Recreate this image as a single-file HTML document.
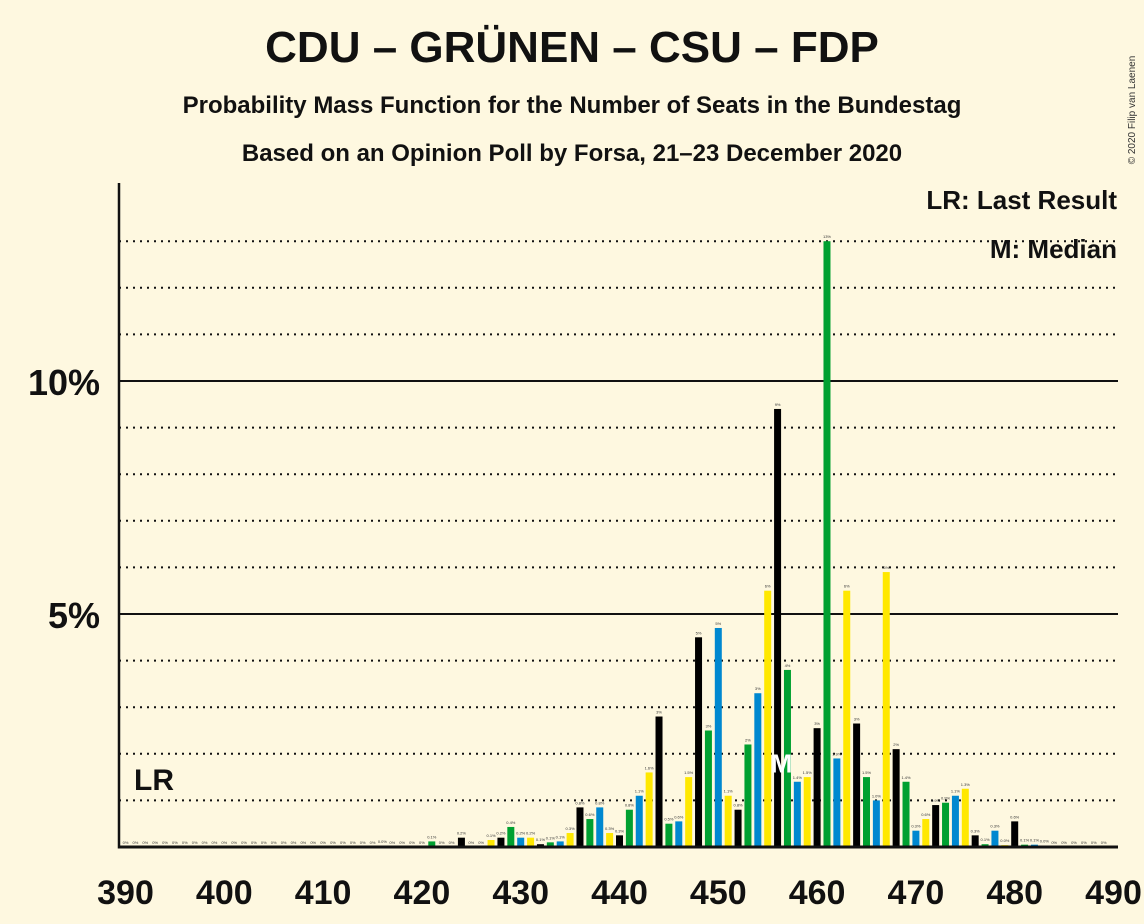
<!DOCTYPE html>
<html><head><meta charset="utf-8"><style>
html,body{margin:0;padding:0;background:#FEF8E0;}
svg{display:block;font-family:"Liberation Sans",sans-serif;}
</style></head><body>
<svg id="chart" width="1144" height="924" viewBox="0 0 1144 924">
<rect width="1144" height="924" fill="#FEF8E0"/>
<text x="572" y="62" text-anchor="middle" font-size="44" font-weight="bold" fill="#111">CDU – GRÜNEN – CSU – FDP</text>
<text x="572" y="113" text-anchor="middle" font-size="24" font-weight="bold" fill="#111">Probability Mass Function for the Number of Seats in the Bundestag</text>
<text x="572" y="161" text-anchor="middle" font-size="24" font-weight="bold" fill="#111">Based on an Opinion Poll by Forsa, 21–23 December 2020</text>
<text x="1135" y="110" font-size="10" fill="#333" transform="rotate(-90 1135 110)" text-anchor="middle">© 2020 Filip van Laenen</text>
<g id="grid"></g>
<g id="bars"></g>
<g id="axes"></g>
<text x="1117" y="209" text-anchor="end" font-size="26" font-weight="bold" fill="#111">LR: Last Result</text>
<text x="1117" y="258" text-anchor="end" font-size="26" font-weight="bold" fill="#111">M: Median</text>
<text x="134" y="790" font-size="30" font-weight="bold" fill="#111">LR</text>
</svg>
<script>
const seats = [];
for (let s = 390; s <= 489; s++) seats.push(s);
const probs = {
416:0.02,421:0.12,424:0.2,427:0.15,428:0.2,429:0.43,430:0.2,431:0.2,432:0.06,433:0.1,434:0.12,435:0.3,
436:0.85,437:0.6,438:0.85,439:0.3,440:0.25,441:0.8,442:1.1,443:1.6,444:2.8,445:0.5,446:0.55,447:1.5,
448:4.5,449:2.5,450:4.7,451:1.1,452:0.8,453:2.2,454:3.3,455:5.5,456:9.4,457:3.8,458:1.4,459:1.5,
460:2.55,461:13.0,462:1.9,463:5.5,464:2.65,465:1.5,466:1.0,467:5.9,468:2.1,469:1.4,470:0.35,471:0.6,
472:0.9,473:0.95,474:1.1,475:1.25,476:0.25,477:0.06,478:0.35,479:0.04,480:0.55,481:0.05,482:0.05,483:0.03
};
const values = seats.map(s => probs[s] || 0);
const labels = values.map(v => v === 0 ? "0%" : (v >= 1.95 ? Math.round(v) + "%" : v.toFixed(1) + "%"));
const xTicks = [390,400,410,420,430,440,450,460,470,480,490];
const yMajor = [5,10];
const yMinor = [1,2,3,4,6,7,8,9,11,12,13];
const colors = ["#000000","#00A030","#0088D0","#FFE800"];
const medianSeat = 456;

const NS = "http://www.w3.org/2000/svg";
const X0 = 119, X1 = 1118, Y0 = 847;
const xs = s => 125.5 + (s - 390) * 9.88;
const ys = p => Y0 - p * 46.6;
function mk(tag, attrs, parent){ const e = document.createElementNS(NS, tag); for (const k in attrs) e.setAttribute(k, attrs[k]); parent.appendChild(e); return e; }
const grid = document.getElementById('grid'), bars = document.getElementById('bars'), axes = document.getElementById('axes');

yMinor.forEach(p => {
  const l = mk('line', {x1:X0, x2:X1, y1:ys(p), y2:ys(p), stroke:'#111', 'stroke-width':2, 'stroke-dasharray':'2,5'}, grid);
  
  
});
yMajor.forEach(p => {
  const l = mk('line', {x1:X0, x2:X1, y1:ys(p), y2:ys(p), stroke:'#111', 'stroke-width':2}, grid);
  
  
  const t = mk('text', {x:100, y:ys(p)+14, 'text-anchor':'end', 'font-size':36, 'font-weight':'bold', fill:'#111'}, axes);
  t.textContent = p + '%';
  
  
});

seats.forEach((s, i) => {
  const v = values[i];
  const c = colors[((s % 4) + 4) % 4];
  if (v > 0) {
    const r = mk('rect', {x:xs(s)-3.5, y:ys(v), width:7, height:Y0-ys(v), fill:c}, bars);
    
    
  }
  const t = mk('text', {x:xs(s), y:ys(v)-3, 'text-anchor':'middle', 'font-size':4, fill:'#333'}, bars);
  t.textContent = labels[i];
  
  
});

const m = mk('text', {x:xs(medianSeat)+4, y:ys(1.6), 'text-anchor':'middle', 'font-size':26, 'font-weight':'bold', fill:'#fff'}, bars);
m.textContent = 'M';



const ya = mk('line', {x1:X0, x2:X0, y1:183, y2:Y0+1.5, stroke:'#111', 'stroke-width':2.5}, axes);


const xa = mk('line', {x1:X0-1, x2:X1, y1:Y0, y2:Y0, stroke:'#111', 'stroke-width':3}, axes);


xTicks.forEach(s => {
  const t = mk('text', {x:xs(s), y:904, 'text-anchor':'middle', 'font-size':34, 'font-weight':'bold', fill:'#111'}, axes);
  t.textContent = s;
  
  
});
</script>
</body></html>
